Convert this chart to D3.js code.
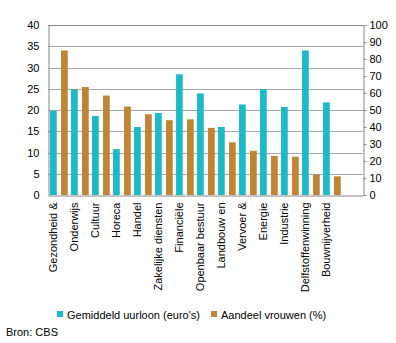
<!DOCTYPE html>
<html>
<head>
<meta charset="utf-8">
<script src="https://cdn.jsdelivr.net/npm/d3@7"></script>
<style>
  body { margin: 0; background: #fff; }
  svg text { font-family: "Liberation Sans", Arial, sans-serif; font-size: 11px; fill: #000; }
</style>
</head>
<body>
<div id="vis"></div>
<script>
var categories = ["Gezondheid &", "Onderwijs", "Cultuur", "Horeca", "Handel", "Zakelijke diensten",
  "Financiële", "Openbaar bestuur", "Landbouw en", "Vervoer &", "Energie", "Industrie",
  "Delfstoffenwinning", "Bouwnijverheid", ""];
var uurloon = [19.8, 24.9, 18.6, 10.8, 16.0, 19.3, 28.4, 23.9, 16.0, 21.3, 24.9, 20.7, 34.0, 21.8, null];
var aandeelVrouwen = [85, 63.5, 58.5, 52, 47.5, 44, 44.5, 39.5, 31, 26, 23, 22.5, 12, 11, null];
var leftTicks = [0, 5, 10, 15, 20, 25, 30, 35, 40];
var rightTicks = [0, 10, 20, 30, 40, 50, 60, 70, 80, 90, 100];
var seriesNames = ["Gemiddeld uurloon (euro's)", "Aandeel vrouwen (%)"];

var blue = "#1cbac6", brown = "#bf8533";
var margin = {top: 25, left: 48, right: 33},
    w = 396, h = 343,
    plotBottom = 195;

var svg = d3.select("#vis").append("svg")
    .attr("width", w)
    .attr("height", h);

var x = d3.scaleBand()
    .domain(categories.map(function(d, i) { return i; }))
    .range([margin.left, w - margin.right])
    .padding(0);

var xSub = d3.scaleBand()
    .domain(["u", "v"])
    .range([0, x.bandwidth()])
    .paddingInner(0.39)
    .paddingOuter(0.15)
    .align(0.62);

var yLeft = d3.scaleLinear().domain([0, 40]).range([plotBottom, margin.top]);
var yRight = d3.scaleLinear().domain([0, 100]).range([plotBottom, margin.top]);

// gridlines
svg.append("g")
  .selectAll("line")
  .data(leftTicks.slice(1, -1))
  .enter().append("line")
    .attr("x1", margin.left)
    .attr("x2", w - margin.right)
    .attr("y1", function(d) { return Math.round(yLeft(d)) + 0.5; })
    .attr("y2", function(d) { return Math.round(yLeft(d)) + 0.5; })
    .style("stroke", "#a6a6a6")
    .style("stroke-width", 1);

// top border
svg.append("line")
    .attr("x1", margin.left).attr("x2", w - margin.right)
    .attr("y1", margin.top + 0.5).attr("y2", margin.top + 0.5)
    .style("stroke", "#868686");

// bars
svg.append("g").selectAll("rect")
  .data(uurloon)
  .enter().filter(function(d) { return d != null; }).append("rect")
    .attr("x", function(d, i) { return x(i) + xSub("u"); })
    .attr("width", xSub.bandwidth())
    .attr("y", function(d) { return yLeft(d); })
    .attr("height", function(d) { return plotBottom - yLeft(d); })
    .style("fill", blue);

svg.append("g").selectAll("rect")
  .data(aandeelVrouwen)
  .enter().filter(function(d) { return d != null; }).append("rect")
    .attr("x", function(d, i) { return x(i) + xSub("v"); })
    .attr("width", xSub.bandwidth())
    .attr("y", function(d) { return yRight(d); })
    .attr("height", function(d) { return plotBottom - yRight(d); })
    .style("fill", brown);

// left axis
var gl = svg.append("g")
    .attr("transform", "translate(" + (margin.left + 0.5) + ",0)")
    .call(d3.axisLeft(yLeft).tickValues(leftTicks).tickSize(0).tickPadding(9));
gl.select(".domain").style("stroke", "#868686");

// right axis
var gr = svg.append("g")
    .attr("transform", "translate(" + (w - margin.right + 0.5) + ",0)")
    .call(d3.axisRight(yRight).tickValues(rightTicks).tickSize(3).tickSizeOuter(0).tickPadding(3));
gr.selectAll("line, .domain").style("stroke", "#868686");

// bottom axis
var gb = svg.append("g")
    .attr("transform", "translate(0," + (plotBottom + 0.5) + ")")
    .call(d3.axisBottom(x).tickSize(0).tickSizeOuter(0).tickFormat(function(i) { return categories[i]; }));
gb.select(".domain").style("stroke", "#868686");
gb.selectAll("text")
    .attr("transform", "rotate(-90)")
    .attr("text-anchor", "end")
    .attr("x", -7)
    .attr("y", -5)
    .attr("dy", "0.35em");

svg.selectAll(".tick text").style("font-family", "'Liberation Sans', Arial, sans-serif").style("font-size", "11px").style("fill", "#000");

// legend
var legend = svg.append("g").selectAll("g")
  .data(seriesNames)
  .enter().append("g")
    .attr("transform", function(d, i) { return "translate(" + (i === 0 ? 57 : 211) + ",311)"; });
legend.append("rect")
    .attr("width", 6).attr("height", 6)
    .style("fill", function(d, i) { return i === 0 ? blue : brown; });
legend.append("text")
    .attr("x", 10).attr("y", 7.5)
    .text(function(d) { return d; });

svg.append("text")
    .attr("x", 6).attr("y", 336)
    .text("Bron: CBS");
</script>
</body>
</html>
